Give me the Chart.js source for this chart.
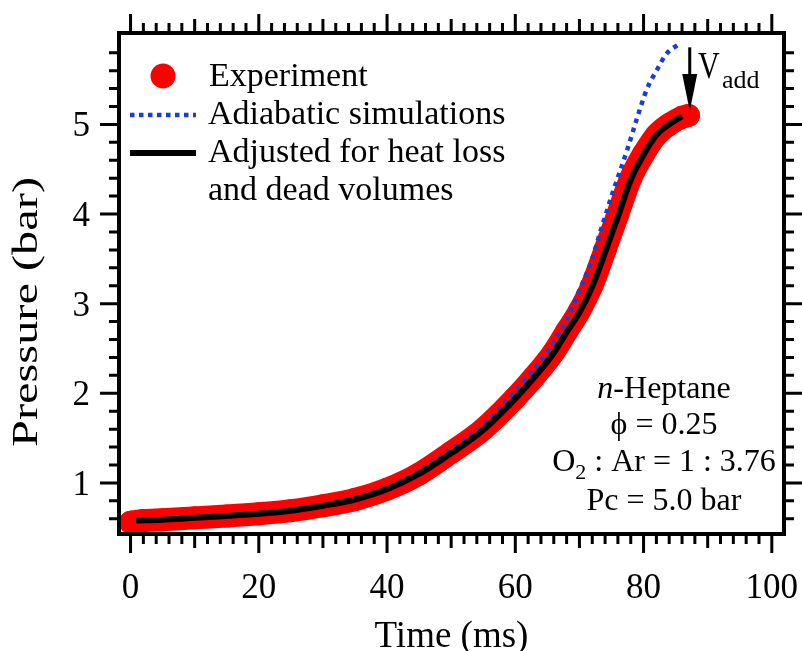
<!DOCTYPE html>
<html lang="en">
<head>
<meta charset="utf-8">
<title>n-Heptane pressure trace</title>
<script src="https://cdn.jsdelivr.net/npm/chart.js@4"></script>
<style>
    body { margin: 0; background: #fff; }
</style>
</head>
<body>
<canvas id="pressureChart" width="802" height="651"></canvas>
<script>
// values (time in ms, pressure in bar)
const expTime     = [0, 2, 5, 10, 15, 20, 25, 30, 35, 40, 45, 50, 55, 60, 63, 66, 68, 70, 72, 74, 76, 78, 80, 82, 84, 86, 87];
const expPressure = [0.56, 0.58, 0.59, 0.61, 0.63, 0.655, 0.69, 0.745, 0.815, 0.93, 1.1, 1.34, 1.6, 1.95, 2.19, 2.46, 2.69, 2.92, 3.21, 3.6, 4.0, 4.4, 4.67, 4.88, 5.0, 5.08, 5.1];

const adiaTime     = [0.9, 10, 20, 30, 40, 45, 50, 55, 60, 65, 68, 70, 72, 73.2, 74, 75, 76, 77.6, 78.9, 80.5, 82.1, 83.6, 85.4];
const adiaPressure = [0.585, 0.615, 0.665, 0.76, 0.95, 1.13, 1.37, 1.64, 2.02, 2.46, 2.82, 3.15, 3.5, 3.79, 3.97, 4.2, 4.41, 4.75, 5.05, 5.39, 5.61, 5.79, 5.89];

const adjTime     = [0.9, 5, 10, 15, 20, 25, 30, 35, 40, 45, 50, 55, 60, 63, 66, 68, 70, 72, 74, 76, 78, 80, 82, 84, 86];
const adjPressure = [0.58, 0.59, 0.61, 0.63, 0.655, 0.69, 0.745, 0.815, 0.93, 1.1, 1.33, 1.59, 1.94, 2.18, 2.45, 2.68, 2.9, 3.19, 3.57, 3.97, 4.38, 4.66, 4.88, 5.0, 5.09];

const xTickLabels = [0, 20, 40, 60, 80, 100];
const yTickLabels = [1, 2, 3, 4, 5];

const vaddArrow = { time: 87.2, from: 5.86, to: 5.15 };

const SERIF = '"Liberation Serif", "Times New Roman", serif';

function toPoints(xs, ys) {
    return xs.map((x, i) => ({ x: x, y: ys[i] }));
}

const decorPlugin = {
    id: 'decor',
    afterDraw(chart) {
        const ctx = chart.ctx;
        const a = chart.chartArea;
        const xs = chart.scales.x, ys = chart.scales.y;
        ctx.save();
        ctx.strokeStyle = '#000';
        ctx.fillStyle = '#000';

        // outward ticks on all four sides
        ctx.lineWidth = 3;
        ctx.beginPath();
        for (let i = 0; i * 2 <= xs.max; i++) {
            const px = xs.getPixelForValue(i * 2);
            const len = i % 10 === 0 ? 19 : (i % 5 === 0 ? 14 : 10);
            ctx.moveTo(px, a.bottom); ctx.lineTo(px, a.bottom + len);
            ctx.moveTo(px, a.top); ctx.lineTo(px, a.top - len);
        }
        for (let i = 3; i * 0.2 <= ys.max - 0.05; i++) {
            const py = ys.getPixelForValue(i * 0.2);
            const len = i % 5 === 0 ? 19 : 10;
            ctx.moveTo(a.left, py); ctx.lineTo(a.left - len, py);
            ctx.moveTo(a.right, py); ctx.lineTo(a.right + len, py);
        }
        ctx.stroke();

        // frame
        ctx.lineWidth = 4;
        ctx.strokeRect(a.left, a.top, a.right - a.left, a.bottom - a.top);

        // tick labels
        ctx.font = '35px ' + SERIF;
        ctx.textAlign = 'center';
        ctx.textBaseline = 'alphabetic';
        xTickLabels.forEach(v => ctx.fillText(String(v), xs.getPixelForValue(v), a.bottom + 64));
        ctx.textAlign = 'right';
        yTickLabels.forEach(v => ctx.fillText(String(v), a.left - 29, ys.getPixelForValue(v) + 12));

        // axis titles
        ctx.font = '37px ' + SERIF;
        ctx.textAlign = 'center';
        ctx.fillText('Time (ms)', (a.left + a.right) / 2, 647);

        ctx.save();
        ctx.font = '36px ' + SERIF;
        const yTitle = 'Pressure (bar)';
        const k = 270 / ctx.measureText(yTitle).width;
        ctx.translate(28, 312);
        ctx.rotate(-Math.PI / 2);
        ctx.scale(k, 1);
        ctx.textBaseline = 'middle';
        ctx.fillText(yTitle, 0, 0);
        ctx.restore();

        // legend
        ctx.fillStyle = '#ff0000';
        ctx.beginPath();
        ctx.arc(163, 76, 12.5, 0, Math.PI * 2);
        ctx.fill();
        ctx.strokeStyle = '#1a3fcf';
        ctx.lineWidth = 4.5;
        ctx.setLineDash([4.5, 4.5]);
        ctx.beginPath(); ctx.moveTo(130, 115); ctx.lineTo(196, 115); ctx.stroke();
        ctx.setLineDash([]);
        ctx.strokeStyle = '#000';
        ctx.lineWidth = 6;
        ctx.beginPath(); ctx.moveTo(130, 153); ctx.lineTo(196, 153); ctx.stroke();

        ctx.fillStyle = '#000';
        ctx.font = '34px ' + SERIF;
        ctx.textAlign = 'left';
        ctx.fillText('Experiment', 209, 86);
        ctx.fillText('Adiabatic simulations', 208, 124);
        ctx.fillText('Adjusted for heat loss', 208, 162);
        ctx.fillText('and dead volumes', 208, 200);

        // conditions
        const cx = 664;
        ctx.font = 'italic 32px ' + SERIF;
        const wN = ctx.measureText('n').width;
        ctx.font = '32px ' + SERIF;
        const wRest = ctx.measureText('-Heptane').width;
        let x0 = cx - (wN + wRest) / 2;
        ctx.font = 'italic 32px ' + SERIF;
        ctx.fillText('n', x0, 398);
        ctx.font = '32px ' + SERIF;
        ctx.fillText('-Heptane', x0 + wN, 398);

        ctx.textAlign = 'center';
        ctx.fillText('\u03D5 = 0.25', cx, 434);
        ctx.fillText('Pc = 5.0 bar', cx, 510);

        ctx.textAlign = 'left';
        const wO = ctx.measureText('O').width;
        const tail = ' : Ar = 1 : 3.76';
        const wTail = ctx.measureText(tail).width;
        ctx.font = '22px ' + SERIF;
        const w2 = ctx.measureText('2').width;
        x0 = cx - (wO + w2 + wTail) / 2;
        ctx.font = '32px ' + SERIF;
        ctx.fillText('O', x0, 471);
        ctx.font = '22px ' + SERIF;
        ctx.fillText('2', x0 + wO, 479);
        ctx.font = '32px ' + SERIF;
        ctx.fillText(tail, x0 + wO + w2, 471);

        // V_add arrow
        const ax = xs.getPixelForValue(vaddArrow.time);
        const ay0 = ys.getPixelForValue(vaddArrow.from);
        const ay1 = ys.getPixelForValue(vaddArrow.to);
        ctx.lineWidth = 3;
        ctx.beginPath(); ctx.moveTo(ax, ay0); ctx.lineTo(ax, ay1 - 30); ctx.stroke();
        ctx.beginPath();
        ctx.moveTo(ax - 7.5, ay1 - 37);
        ctx.lineTo(ax + 7.5, ay1 - 37);
        ctx.lineTo(ax, ay1);
        ctx.closePath();
        ctx.fill();

        ctx.save();
        ctx.translate(698, 78);
        ctx.scale(1, 1.25);
        ctx.font = '30px ' + SERIF;
        ctx.fillText('V', 0, 0);
        ctx.restore();
        ctx.font = '26px ' + SERIF;
        ctx.fillText('add', 722, 88);

        ctx.restore();
    }
};

const ctx = document.getElementById('pressureChart').getContext('2d');
new Chart(ctx, {
    type: 'scatter',
    data: {
        datasets: [
            {
                label: 'Adjusted for heat loss and dead volumes',
                data: toPoints(adjTime, adjPressure),
                showLine: true,
                borderColor: '#000',
                borderWidth: 6,
                pointRadius: 0,
                cubicInterpolationMode: 'monotone',
                order: 0
            },
            {
                label: 'Adiabatic simulations',
                data: toPoints(adiaTime, adiaPressure),
                showLine: true,
                borderColor: '#1a3fcf',
                borderWidth: 4.5,
                borderDash: [4.5, 5],
                pointRadius: 0,
                cubicInterpolationMode: 'monotone',
                order: 1
            },
            {
                label: 'Experiment',
                data: toPoints(expTime, expPressure),
                showLine: true,
                borderColor: '#ff0000',
                borderWidth: 23,
                borderCapStyle: 'round',
                borderJoinStyle: 'round',
                pointRadius: 11.5,
                pointBorderWidth: 0,
                pointBackgroundColor: '#ff0000',
                cubicInterpolationMode: 'monotone',
                order: 2
            }
        ]
    },
    options: {
        responsive: false,
        animation: false,
        layout: { padding: { left: 119, top: 33, right: 18, bottom: 117 } },
        plugins: { legend: { display: false }, tooltip: { enabled: false } },
        scales: {
            x: { type: 'linear', min: -1.8, max: 101.9, display: false },
            y: { type: 'linear', min: 0.43, max: 6.02, display: false }
        }
    },
    plugins: [decorPlugin]
});
</script>
</body>
</html>
